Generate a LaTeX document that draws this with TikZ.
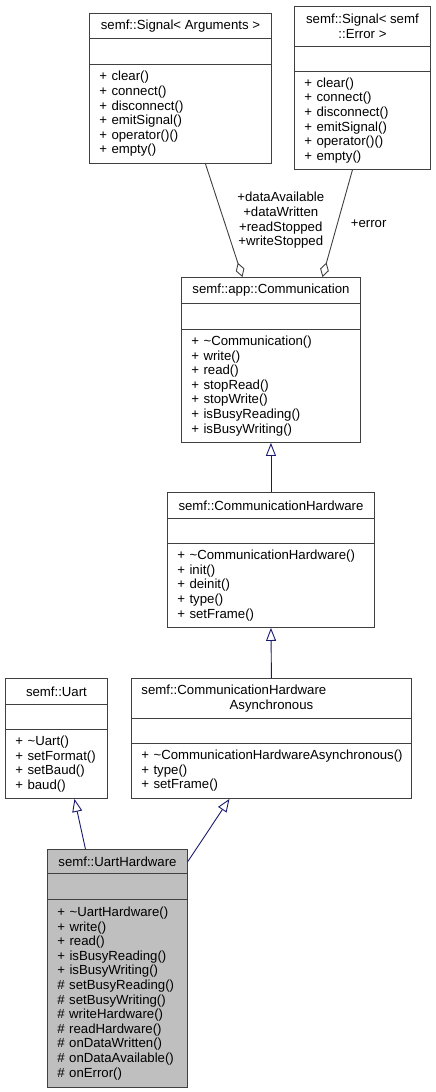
\documentclass[tikz,border=0pt]{standalone}
\usepackage{fontspec}
\setmainfont{Liberation Sans}
\usepackage{xcolor}
\usepackage{tikz}
\usetikzlibrary{positioning,arrows.meta,calc}

\definecolor{edgeblue}{HTML}{191970}
\definecolor{boxgray}{HTML}{404040}

\tikzset{
  classbox/.style={draw=boxgray, line width=0.9pt, rectangle, fill=white, inner sep=0pt,
    anchor=north west, align=center, font=\fontsize{13.2}{14.6}\selectfont},
  memberbox/.style={classbox, inner xsep=10pt, align=left},
  inherit/.style={draw=edgeblue, line width=0.9pt, -{Triangle[open, length=13pt, width=10pt]}},
  uses/.style={draw=boxgray, line width=0.9pt, -{Diamond[open, length=15pt, width=9pt]}},
  rolelabel/.style={inner sep=0pt, align=center, font=\fontsize{13.2}{14.6}\selectfont}
}

\begin{document}
\begin{tikzpicture}[x=1pt, y=-1pt]
    \useasboundingbox (0,0) rectangle (436,1092);
    % semf::Signal< Arguments >
    \node[classbox, minimum width=182pt, minimum height=25pt] (sigargs-name) at (89,13) {semf::Signal< Arguments >};
    \node[classbox, minimum width=182pt, minimum height=26pt] (sigargs-attr) at (89,38) {};
    \node[memberbox, text width=162pt, minimum height=99pt] (sigargs-ops) at (89,64)
      {+ clear()\\+ connect()\\+ disconnect()\\+ emitSignal()\\+ operator()()\\+ empty()};
    % semf::Signal< semf::Error >
    \node[classbox, minimum width=136pt, minimum height=40pt] (sigerr-name) at (294,6) {semf::Signal< semf\\::Error >};
    \node[classbox, minimum width=136pt, minimum height=25pt] (sigerr-attr) at (294,46) {};
    \node[memberbox, text width=116pt, minimum height=98pt] (sigerr-ops) at (294,71)
      {+ clear()\\+ connect()\\+ disconnect()\\+ emitSignal()\\+ operator()()\\+ empty()};
    % semf::app::Communication
    \node[classbox, minimum width=179pt, minimum height=26pt] (comm-name) at (181,277) {semf::app::Communication};
    \node[classbox, minimum width=179pt, minimum height=26pt] (comm-attr) at (181,303) {};
    \node[memberbox, text width=159pt, minimum height=113pt] (comm-ops) at (181,329)
      {+ \textasciitilde Communication()\\+ write()\\+ read()\\+ stopRead()\\+ stopWrite()\\+ isBusyReading()\\+ isBusyWriting()};
    % semf::CommunicationHardware
    \node[classbox, minimum width=207pt, minimum height=26pt] (commhw-name) at (167,492) {semf::CommunicationHardware};
    \node[classbox, minimum width=207pt, minimum height=25pt] (commhw-attr) at (167,518) {};
    \node[memberbox, text width=187pt, minimum height=84pt] (commhw-ops) at (167,543)
      {+ \textasciitilde CommunicationHardware()\\+ init()\\+ deinit()\\+ type()\\+ setFrame()};
    % semf::Uart
    \node[classbox, minimum width=102pt, minimum height=26pt] (uart-name) at (5,678) {semf::Uart};
    \node[classbox, minimum width=102pt, minimum height=25pt] (uart-attr) at (5,704) {};
    \node[memberbox, text width=82pt, minimum height=69pt] (uart-ops) at (5,729)
      {+ \textasciitilde Uart()\\+ setFormat()\\+ setBaud()\\+ baud()};
    % semf::CommunicationHardwareAsynchronous
    \node[memberbox, text width=260pt, minimum height=40pt] (chasync-name) at (131,678)
      {semf::CommunicationHardware\\\makebox[260pt]{Asynchronous}};
    \node[classbox, minimum width=280pt, minimum height=25pt] (chasync-attr) at (131,718) {};
    \node[memberbox, text width=260pt, minimum height=55pt] (chasync-ops) at (131,743)
      {\mbox{+ \textasciitilde CommunicationHardwareAsynchronous()}\\+ type()\\+ setFrame()};
    % semf::UartHardware
    \node[classbox, fill=black!25, minimum width=140pt, minimum height=24pt] (uarthw-name) at (47,849) {semf::UartHardware};
    \node[classbox, fill=black!25, minimum width=140pt, minimum height=26pt] (uarthw-attr) at (47,873) {};
    \node[memberbox, fill=black!25, text width=120pt, minimum height=188pt] (uarthw-ops) at (47,899)
      {+ \textasciitilde UartHardware()\\+ write()\\+ read()\\+ isBusyReading()\\+ isBusyWriting()\\\# setBusyReading()\\\# setBusyWriting()\\\# writeHardware()\\\# readHardware()\\\# onDataWritten()\\\# onDataAvailable()\\\# onError()};

    % members used by Communication
    \draw[uses] ([xshift=25pt]sigargs-ops.south) -- ([xshift=-28.5pt]comm-name.north)
      node[rolelabel, midway, right=13pt] {+dataAvailable\\+dataWritten\\+readStopped\\+writeStopped};
    \draw[uses] ([xshift=-10pt]sigerr-ops.south) -- ([xshift=51.5pt]comm-name.north)
      node[rolelabel, midway, right=13pt] {+error};
    % inheritance
    \draw[inherit] (commhw-name.north) -- (comm-ops.south);
    \draw[inherit] (chasync-name.north) -- (commhw-ops.south);
    \draw[inherit] ([xshift=-32pt]uarthw-name.north) -- ([xshift=18pt]uart-ops.south);
    \draw[inherit] (uarthw-name.east) -- ([xshift=-42pt]chasync-ops.south);
  \end{tikzpicture}
\end{document}
